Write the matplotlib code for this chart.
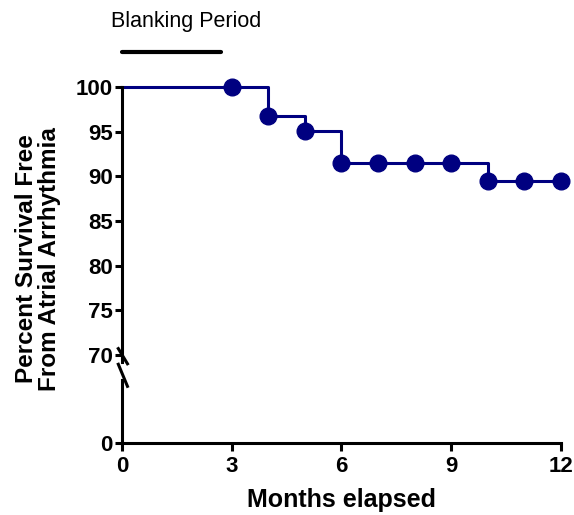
import matplotlib
matplotlib.use('Agg')
import matplotlib.pyplot as plt

# datos de supervivencia (meses, porcentaje)
step_months = [0, 4, 5, 6, 10, 12]
step_survival = [100, 96.7, 95.1, 91.5, 89.5, 89.5]
marker_months = [3, 4, 5, 6, 7, 8, 9, 10, 11, 12]
marker_survival = [100, 96.7, 95.1, 91.5, 91.5, 91.5, 91.5, 89.5, 89.5, 89.5]
x_ticks = [0, 3, 6, 9, 12]
top_ticks = [70, 75, 80, 85, 90, 95, 100]
blanking = [0, 2.7]

plt.rcParams['font.family'] = ['Liberation Sans', 'DejaVu Sans']
navy = '#000080'
lw = 2.2

fig = plt.figure(figsize=(5.74, 5.15), dpi=100)
ax_top = fig.add_axes([0.2125, 0.2971, 0.7648, 0.534])
ax_bot = fig.add_axes([0.2125, 0.1398, 0.7648, 0.1223])

# panel superior
ax_top.step(step_months, step_survival, where='post', color=navy, lw=lw, clip_on=False)
ax_top.plot(marker_months, marker_survival, 'o', color=navy, ms=12, clip_on=False, zorder=5)
ax_top.set_xlim(0, 12)
ax_top.set_ylim(69.2, 100)
ax_top.set_yticks(top_ticks)
ax_top.set_xticks([])
for s in ['top', 'right', 'bottom']:
    ax_top.spines[s].set_visible(False)

# panel inferior
ax_bot.set_xlim(0, 12)
ax_bot.set_ylim(0, 10)
ax_bot.set_yticks([0])
ax_bot.set_xticks(x_ticks)
for s in ['top', 'right']:
    ax_bot.spines[s].set_visible(False)

for ax in (ax_top, ax_bot):
    ax.patch.set_alpha(0)
    for s in ['left', 'bottom']:
        ax.spines[s].set_linewidth(lw)
    ax.tick_params(width=lw, length=5, labelsize=16, pad=1.5)
    for lab in ax.get_xticklabels() + ax.get_yticklabels():
        lab.set_fontweight('bold')
ax_bot.tick_params(axis='x', length=6, pad=3.5)

# marcas de corte del eje
ax_top.plot([-0.1, 0.15], [70.7, 69.0], color='black', lw=lw, clip_on=False)
ax_bot.plot([-0.1, 0.15], [12.5, 9.0], color='black', lw=lw, clip_on=False)

# periodo de blanqueo
ax_top.plot(blanking, [103.9, 103.9], color='black', lw=3, clip_on=False, solid_capstyle='round')
ax_top.text(-0.3, 107.3, 'Blanking Period', fontsize=15.5, ha='left', va='center')

ax_bot.set_xlabel('Months elapsed', fontsize=18, fontweight='bold', labelpad=8)
fig.text(0.066, 0.497, 'Percent Survival Free\nFrom Atrial Arrhythmia', rotation=90,
         ha='center', va='center', fontsize=17.5, fontweight='bold', linespacing=1.0)

fig.savefig('out.png', dpi=100)
